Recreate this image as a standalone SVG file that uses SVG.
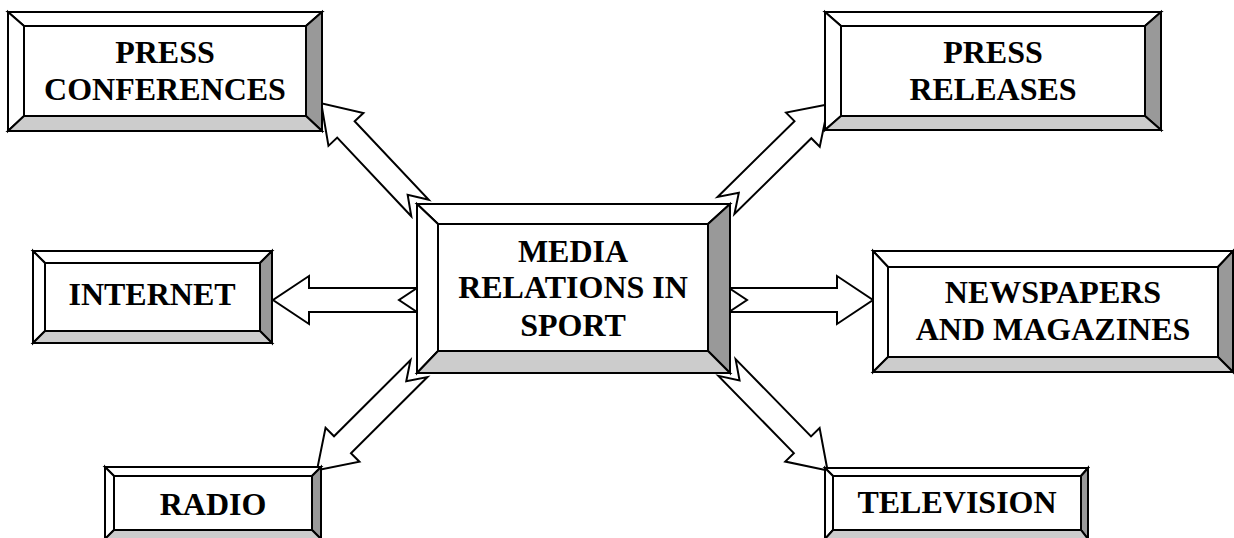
<svg xmlns="http://www.w3.org/2000/svg" width="1234" height="538" viewBox="0 0 1234 538">
<style>
.o{fill:#fff;stroke:#000;stroke-width:2;stroke-linejoin:miter}
.t{fill:#fff;stroke:#000;stroke-width:2}
.r{fill:#999;stroke:#000;stroke-width:2}
.b{fill:#ccc;stroke:#000;stroke-width:2}
.a{fill:#fff;stroke:#000;stroke-width:2;stroke-linejoin:miter}
text{font-family:"Liberation Serif","Times New Roman",serif;font-weight:bold;font-size:32px;text-anchor:middle;fill:#000}
</style>
<defs>
<path id="arr" class="a" d="M0,-12 L108,-12 L108,-24 L144,0 L108,24 L108,12 L0,12 L18,0 Z"/>
</defs>
<rect width="1234" height="538" fill="#fff"/>
<g id="connectors">
<use href="#arr" transform="translate(417,300) rotate(180)"/>
<use href="#arr" transform="translate(729,300)"/>
<use href="#arr" transform="translate(420,208) rotate(226.7)"/>
<use href="#arr" transform="translate(419,368.5) rotate(135.1)"/>
<use href="#arr" transform="translate(726,205.5) rotate(-44.6)"/>
<use href="#arr" transform="translate(727,367.5) rotate(45.7)"/>
</g>
<g id="press-conferences">
<polygon class="t" points="8,12 322,12 306,26 24,26"/>
<polygon class="t" points="8,12 24,26 24,116 8,131"/>
<polygon class="r" points="322,12 322,131 306,116 306,26"/>
<polygon class="b" points="8,131 24,116 306,116 322,131"/>
<rect class="o" x="24" y="26" width="282" height="90"/>
<text x="165" y="63">PRESS</text>
<text x="165" y="100">CONFERENCES</text>
</g>
<g id="press-releases">
<polygon class="t" points="825,12 1161,12 1145,26 841,26"/>
<polygon class="t" points="825,12 841,26 841,116 825,130"/>
<polygon class="r" points="1161,12 1161,130 1145,116 1145,26"/>
<polygon class="b" points="825,130 841,116 1145,116 1161,130"/>
<rect class="o" x="841" y="26" width="304" height="90"/>
<text x="993" y="63">PRESS</text>
<text x="993" y="100">RELEASES</text>
</g>
<g id="internet">
<polygon class="t" points="33,251 272,251 260,263 45,263"/>
<polygon class="t" points="33,251 45,263 45,331 33,343"/>
<polygon class="r" points="272,251 272,343 260,331 260,263"/>
<polygon class="b" points="33,343 45,331 260,331 272,343"/>
<rect class="o" x="45" y="263" width="215" height="68"/>
<text x="152" y="305">INTERNET</text>
</g>
<g id="media-relations">
<polygon class="t" points="417,204 730,204 708,224 438,224"/>
<polygon class="t" points="417,204 438,224 438,351 417,373"/>
<polygon class="r" points="730,204 730,373 708,351 708,224"/>
<polygon class="b" points="417,373 438,351 708,351 730,373"/>
<rect class="o" x="438" y="224" width="270" height="127"/>
<text x="573" y="262">MEDIA</text>
<text x="573" y="298">RELATIONS IN</text>
<text x="573" y="336">SPORT</text>
</g>
<g id="newspapers">
<polygon class="t" points="873,251 1233,251 1218,267 888,267"/>
<polygon class="t" points="873,251 888,267 888,357 873,372"/>
<polygon class="r" points="1233,251 1233,372 1218,357 1218,267"/>
<polygon class="b" points="873,372 888,357 1218,357 1233,372"/>
<rect class="o" x="888" y="267" width="330" height="90"/>
<text x="1053" y="303">NEWSPAPERS</text>
<text x="1053" y="340">AND MAGAZINES</text>
</g>
<g id="radio">
<polygon class="t" points="105,467 321,467 312,476 114,476"/>
<polygon class="t" points="105,467 114,476 114,530 105,539"/>
<polygon class="r" points="321,467 321,539 312,530 312,476"/>
<polygon class="b" points="105,539 114,530 312,530 321,539"/>
<rect class="o" x="114" y="476" width="198" height="54"/>
<text x="213" y="515">RADIO</text>
</g>
<g id="television">
<polygon class="t" points="825,468 1088,468 1081,476 833,476"/>
<polygon class="t" points="825,468 833,476 833,530 825,539"/>
<polygon class="r" points="1088,468 1088,539 1081,530 1081,476"/>
<polygon class="b" points="825,539 833,530 1081,530 1088,539"/>
<rect class="o" x="833" y="476" width="248" height="54"/>
<text x="957" y="513">TELEVISION</text>
</g>
</svg>
